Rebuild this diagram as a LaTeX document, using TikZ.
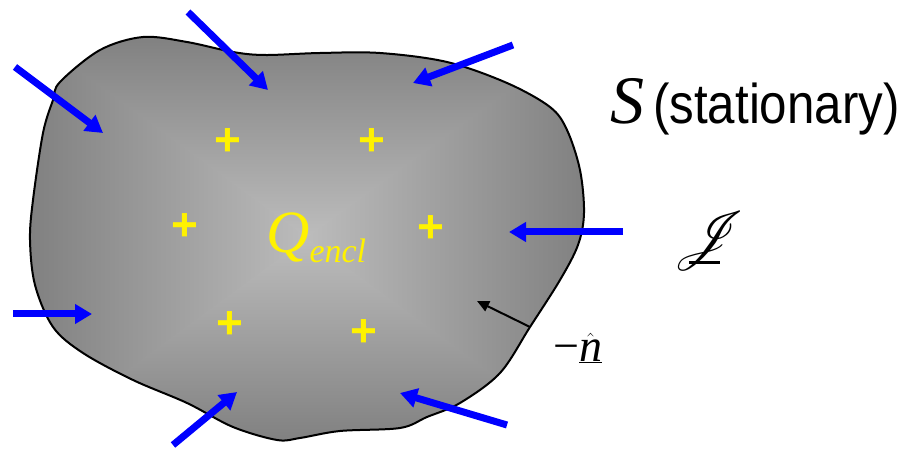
\documentclass[tikz,border=0pt]{standalone}
\usepackage{fontspec}
\setmainfont{Liberation Serif}
\newfontfamily\arialfont{Liberation Sans}
\usepackage{mathrsfs}
\usetikzlibrary{arrows.meta}

\colorlet{rim}{black!50}
\colorlet{core}{black!26}

\begin{document}
\begin{tikzpicture}[x=1pt, y=-1pt,
  flux/.style={blue, line width=7pt, -{Triangle[length=17pt, width=19pt]}},
  charge/.style={text=yellow, inner sep=0pt, font=\arialfont\bfseries\fontsize{46}{46}\selectfont}]
%% 1 unit = 1 px of the 911 x 449 frame, y downwards
%%   centre of the grey body ~ (307,238)
%%   text column on the right starts at x ~ 555

\useasboundingbox (0,0) rectangle (911,449);

%% ---- Surface ----
\def\surface{plot[smooth cycle, tension=0.55] coordinates {
  (60,82) (100,50) (143,37) (187,42) (233,52) (265,55) (320,53) (380,53)
  (447,62) (507,83) (550,107) (567,130) (580,170) (584,213) (578,245)
  (560,280) (530,327) (500,373) (460,403) (427,417) (400,428) (340,431)
  (300,438) (277,440) (233,427) (187,403) (133,380) (83,353) (53,327)
  (35,285) (30,240) (33,200) (43,133) (53,100)}}

\begin{scope}
  \clip \surface;
  \shade[left color=rim, right color=core]  (25,20) -- (25,449) -- (312,238) -- cycle;
  \shade[left color=core, right color=rim]  (590,20) -- (590,449) -- (302,238) -- cycle;
  \shade[top color=rim, bottom color=core]  (25,32) -- (590,32) -- (307,238) -- cycle;
  \shade[top color=core, bottom color=rim]  (25,445) -- (590,445) -- (307,238) -- cycle;
\end{scope}
\draw[line width=2pt] \surface;

%% ---- Enclosed charges ----
\foreach \x/\y [count=\i] in {228/142, 372/142, 185/227, 431/229, 230/325, 364/333}
  \node[charge] (plus\i) at (\x,\y) {+};

\node[anchor=base west, inner sep=0pt, text=yellow] (qencl) at (266,253)
  {\fontsize{60}{60}\selectfont\itshape Q\raisebox{-10pt}{\fontsize{34}{34}\selectfont encl}};

%% ---- Incoming flux ----
\foreach \ax/\ay/\bx/\by in {15/67/103/133, 188/12/268/90, 513/45/413/83,
    623/232/509/232, 507/425/400/393, 173/445/237/392, 13/314/92/314}
  \draw[flux] (\ax,\ay) -- (\bx,\by);

%% ---- Inward normal ----
\coordinate (foot) at (530,327);
\coordinate (head) at (477,301);
\draw[line width=2pt, -{Triangle[length=12pt, width=11pt]}] (foot) -- (head);
\node[anchor=base west, inner sep=0pt] (nlabel) at (553,361)
  {\fontsize{46}{46}\selectfont −$\underline{\hat{\mbox{\itshape n}}}$};

%% ---- Labels on the right ----
\node[anchor=base west, inner sep=0pt] (stag) at (610,124)
  {\fontsize{68}{68}\selectfont\itshape S\hspace{9pt}\scalebox{0.88}[1]{\arialfont\upshape\fontsize{56}{56}\selectfont(stationary)}};
\node[inner sep=0pt, scale=2.4] (jvec) at (710,241)
  {\fontsize{24.88}{26}\selectfont$\mathscr{J}$};
\draw[line width=3pt] (689,263) -- (720,263);
\end{tikzpicture}
\end{document}
